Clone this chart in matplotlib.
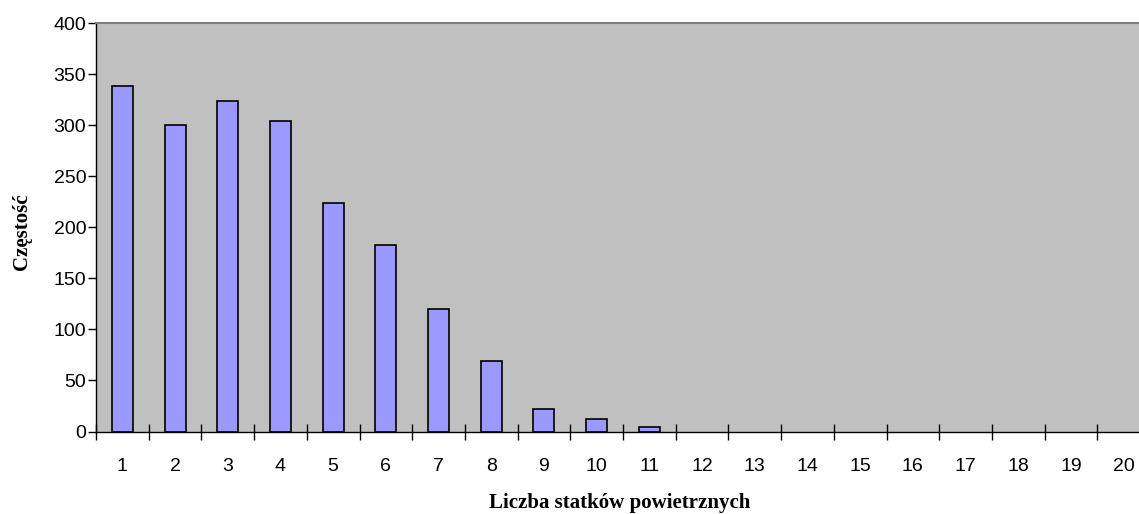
import matplotlib
matplotlib.use("Agg")
import matplotlib.pyplot as plt
import numpy as np

# number of aircraft and how often each count occurred
liczba = list(range(1, 21))
czestosc = [338, 300, 324, 304, 224, 183, 120, 69, 22, 12, 4,
            0, 0, 0, 0, 0, 0, 0, 0, 0]
y_ticks = [0, 50, 100, 150, 200, 250, 300, 350, 400]

fig = plt.figure(figsize=(11.39, 5.14), dpi=100)
# plot area runs a little past the right edge of the figure
ax = fig.add_axes([96 / 1139, 1 - 431.5 / 514, 1054 / 1139, 408.5 / 514])
ax.set_facecolor("#C0C0C0")

x = np.arange(len(liczba))
# empty categories get no outline
edges = ["black" if v > 0 else "none" for v in czestosc]
ax.bar(x, czestosc, width=0.4, color="#9999FF", edgecolor=edges, linewidth=1.2)

ax.set_xlim(-0.5, len(liczba) - 0.5)
ax.set_ylim(0, 400)
ax.set_yticks(y_ticks)
ax.set_yticklabels([str(v) for v in y_ticks], fontsize=14, family="Liberation Sans")
ax.tick_params(axis="y", direction="out", length=6, width=1, pad=1)

# tick marks between categories, labels under the bars
ax.set_xticks(np.arange(len(liczba) + 1) - 0.5)
ax.set_xticklabels([])
ax.tick_params(axis="x", which="major", direction="inout", length=12, width=1)
ax.set_xticks(x, minor=True)
ax.set_xticklabels([str(v) for v in liczba], minor=True, fontsize=14,
                   family="Liberation Sans")
ax.tick_params(axis="x", which="minor", length=0, pad=19)

for side in ("left", "bottom"):
    ax.spines[side].set_color("black")
    ax.spines[side].set_linewidth(1)
ax.spines["top"].set_color("#808080")
ax.spines["top"].set_linewidth(1.5)
ax.spines["right"].set_visible(False)

ax.set_ylabel("Częstość", fontsize=15, fontweight="bold", family="Liberation Serif")
ax.yaxis.set_label_coords(-(96 - 32) / 1054, (431.5 - 232) / 408.5)
ax.set_xlabel("Liczba statków powietrznych", fontsize=15, fontweight="bold",
              family="Liberation Serif")
ax.xaxis.set_label_coords((620 - 96) / 1054, -(493 - 431.5) / 408.5)

fig.savefig("out.png", dpi=100)
